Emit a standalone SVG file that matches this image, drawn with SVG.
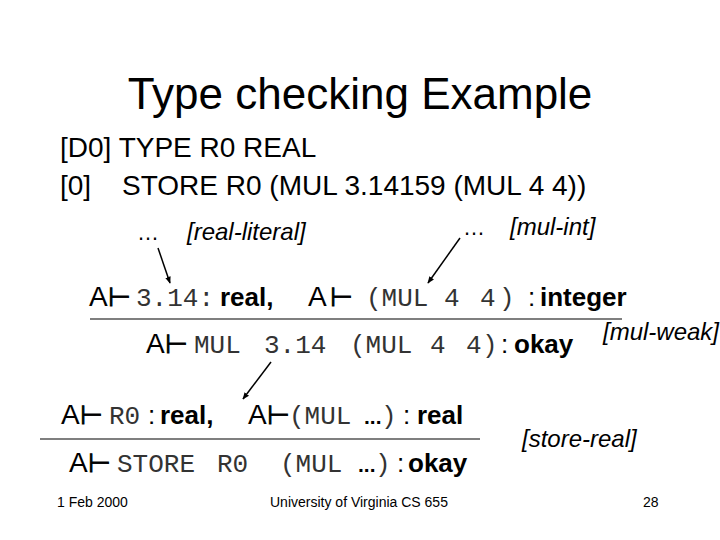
<svg xmlns="http://www.w3.org/2000/svg" width="720" height="540" viewBox="0 0 720 540">
<style>
.s{font-family:"Liberation Sans",Arial,sans-serif;fill:#000}
.m{font-family:"Liberation Mono","Courier New",monospace;fill:#333;font-size:26px}
.b{font-family:"Liberation Sans",Arial,sans-serif;font-weight:bold;fill:#000;font-size:26px}
.d{font-family:"Liberation Sans",Arial,sans-serif;font-weight:bold;fill:#000;font-size:21px}
.t{font-family:"DejaVu Sans",sans-serif;fill:#000;stroke:#000;stroke-width:0.9;font-size:26px}
.i{font-family:"Liberation Sans",Arial,sans-serif;font-style:italic;fill:#000;font-size:24px}
.a{font-family:"Liberation Sans",Arial,sans-serif;fill:#000;font-size:28px}
.c{font-family:"Liberation Sans",Arial,sans-serif;fill:#000;font-size:26px}
.f{font-family:"Liberation Sans",Arial,sans-serif;fill:#000;font-size:14px}
.r{stroke:#000;stroke-width:1.2}
.k{stroke:#000;stroke-width:1.5;marker-end:url(#ah)}
</style>
<defs>
<marker id="ah" viewBox="0 0 10 10" refX="9" refY="5" markerWidth="7" markerHeight="7" orient="auto" markerUnits="userSpaceOnUse">
<path d="M0,1 L10,5 L0,9 z" fill="#000"/>
</marker>
</defs>
<rect width="720" height="540" fill="#fff"/>
<g id="title"><text class="s" x="360" y="109" font-size="44" text-anchor="middle">Type checking Example</text></g>
<g id="code">
<text class="s" x="60" y="157" font-size="28">[D0] TYPE R0 REAL</text>
<text class="s" x="60" y="195" font-size="28">[0]</text>
<text class="s" x="122" y="195" font-size="28">STORE R0 (MUL 3.14159 (MUL 4 4))</text>
</g>
<g id="label-real-literal">
<text class="s" x="137" y="240" font-size="22">…</text>
<text class="i" x="187" y="240">[real-literal]</text>
</g>
<g id="label-mul-int">
<text class="s" x="463" y="235" font-size="22">…</text>
<text class="i" x="510" y="235">[mul-int]</text>
</g>
<g id="premise1">
<text class="a" x="89" y="306">A</text><text class="t" x="108" y="306">⊢</text>
<text class="m" x="136" y="306">3.14:</text>
<text class="b" x="220" y="306">real,</text>
<text class="a" x="308" y="306">A</text><text class="t" x="330" y="306">⊢</text>
<text class="m" x="366" y="306">(MUL</text>
<text class="m" x="444" y="306">4</text>
<text class="m" x="480" y="306">4</text>
<text class="m" x="499" y="306">)</text>
<text class="c" x="528" y="306">:</text>
<text class="b" x="540" y="306">integer</text>
</g>
<line class="r" x1="90" y1="319" x2="622" y2="319"/>
<g id="conclusion1">
<text class="a" x="146" y="353">A</text><text class="t" x="165" y="353">⊢</text>
<text class="m" x="194" y="353">MUL</text>
<text class="m" x="264" y="353">3.14</text>
<text class="m" x="350" y="353">(MUL</text>
<text class="m" x="430" y="353">4</text>
<text class="m" x="466" y="353">4</text>
<text class="m" x="482" y="353">)</text>
<text class="c" x="501" y="353">:</text>
<text class="b" x="514" y="353">okay</text>
</g>
<g id="label-mul-weak"><text class="i" x="603" y="340">[mul-weak]</text></g>
<g id="premise2">
<text class="a" x="61" y="424">A</text><text class="t" x="80" y="424">⊢</text>
<text class="m" x="109" y="424">R0</text>
<text class="c" x="148" y="424">:</text>
<text class="b" x="160" y="424">real,</text>
<text class="a" x="248" y="424">A</text><text class="t" x="267" y="424">⊢</text>
<text class="m" x="289" y="424">(MUL</text>
<text class="d" x="364" y="424">...</text>
<text class="m" x="381" y="424">)</text>
<text class="c" x="403" y="424">:</text>
<text class="b" x="417" y="424">real</text>
</g>
<line class="r" x1="40" y1="439" x2="480" y2="439"/>
<g id="conclusion2">
<text class="a" x="69" y="472">A</text><text class="t" x="88" y="472">⊢</text>
<text class="m" x="117" y="472">STORE</text>
<text class="m" x="217" y="472">R0</text>
<text class="m" x="280" y="472">(MUL</text>
<text class="d" x="358" y="472">...</text>
<text class="m" x="375" y="472">)</text>
<text class="c" x="397" y="472">:</text>
<text class="b" x="408" y="472">okay</text>
</g>
<g id="label-store-real"><text class="i" x="522" y="447">[store-real]</text></g>
<g id="connectors">
<line class="k" x1="158" y1="248" x2="170" y2="283"/>
<line class="k" x1="460" y1="238" x2="428" y2="283"/>
<line class="k" x1="271" y1="362" x2="243" y2="399"/>
</g>
<g id="footer">
<text class="f" x="57" y="507">1 Feb 2000</text>
<text class="f" x="270" y="507">University of Virginia CS 655</text>
<text class="f" x="643" y="507">28</text>
</g>
</svg>
